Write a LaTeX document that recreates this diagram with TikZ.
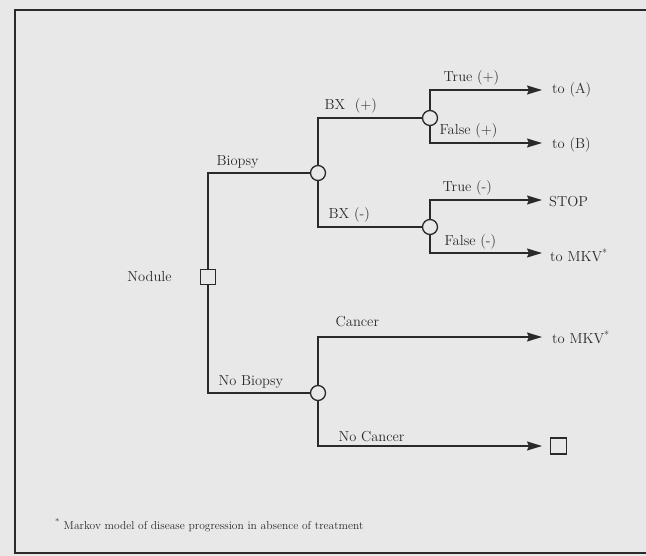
\documentclass[tikz,border=0pt]{standalone}
\usetikzlibrary{arrows.meta,positioning}
\definecolor{bg}{HTML}{E8E8E8}
\definecolor{ink}{HTML}{2A2A2A}

\begin{document}
\begin{tikzpicture}[x=1pt,y=-1pt,
    font=\fontsize{14.5}{17}\selectfont,
    decision/.style={draw=ink, rectangle, minimum size=15pt, inner sep=0pt, line width=1.3pt},
    chance/.style={draw=ink, circle, minimum size=15pt, inner sep=0pt, line width=1.3pt},
    branch/.style={draw=ink, line width=1.3pt},
    outcome/.style={branch, -{Stealth[length=15pt,width=9pt,inset=2pt]}},
    blabel/.style={anchor=south west, xshift=7pt, yshift=3pt, inner sep=1pt, text=ink},
    endtext/.style={inner sep=1pt, anchor=west, text=ink}]
  % page and frame
  \useasboundingbox (0,0) rectangle (646,556);
  \clip (0,0) rectangle (646,556);
  \fill[bg] (0,0) rectangle (646,556);
  \draw[ink, line width=1.6pt] (15,10) rectangle (670,553);

  % decision and chance nodes
  \node[decision] (nodule) at (208,277) {};
  \node[text=ink, left=27pt of nodule, inner sep=1pt] (nodlbl) {Nodule};
  \node[chance] (biopsy) at (318,173) {};
  \node[chance] (nobiopsy) at (318,393) {};
  \node[chance] (bxpos) at (430,118) {};
  \node[chance] (bxneg) at (430,227) {};

  % arrow ends
  \coordinate (tipA) at (542,90);
  \coordinate (tipB) at (542,143);
  \coordinate (tipStop) at (542,200);
  \coordinate (tipMkvA) at (542,253);
  \coordinate (tipMkvB) at (542,337);
  \coordinate (tipNo) at (542,446);

  \node[endtext, right=9pt of tipA] (toA) {to (A)};
  \node[endtext, right=9pt of tipB, yshift=-2pt] (toB) {to (B)};
  \node[endtext, right=6pt of tipStop, yshift=-2pt] (stop) {STOP};
  \node[endtext, right=7pt of tipMkvA, yshift=-2pt] (mkvA) {to MKV\textsuperscript{*}};
  \node[endtext, right=9pt of tipMkvB] (mkvB) {to MKV\textsuperscript{*}};
  \node[decision, minimum size=16pt, right=8pt of tipNo] (term) {};

  % branches
  \draw[branch] (nodule) |- node[blabel] {Biopsy} (biopsy);
  \draw[branch] (nodule) |- node[blabel, xshift=2pt] {No Biopsy} (nobiopsy);
  \draw[branch] (biopsy) |- node[blabel, xshift=-2pt] {BX\ \ (+)} (bxpos);
  \draw[branch] (biopsy) |- node[blabel, xshift=2pt] {BX\ (-)} (bxneg);
  \draw[outcome] (bxpos) |- node[blabel, xshift=5pt] {True (+)} (tipA);
  \draw[outcome] (bxpos) |- node[blabel, xshift=1pt] {False (+)} (tipB);
  \draw[outcome] (bxneg) |- node[blabel, xshift=4pt] {True (-)} (tipStop);
  \draw[outcome] (bxneg) |- node[blabel, xshift=6pt, yshift=-1pt] {False\ (-)} (tipMkvA);
  \draw[outcome] (nobiopsy) |- node[blabel, xshift=9pt, yshift=6pt] {Cancer} (tipMkvB);
  \draw[outcome] (nobiopsy) |- node[blabel, xshift=12pt] {No Cancer} (tipNo);

  % footnote
  \node[text=ink, anchor=west, inner sep=0pt, font=\fontsize{11.5}{13}\selectfont] (note) at (55,525)
    {\textsuperscript{*} Markov model of disease progression in absence of treatment};
\end{tikzpicture}
\end{document}
